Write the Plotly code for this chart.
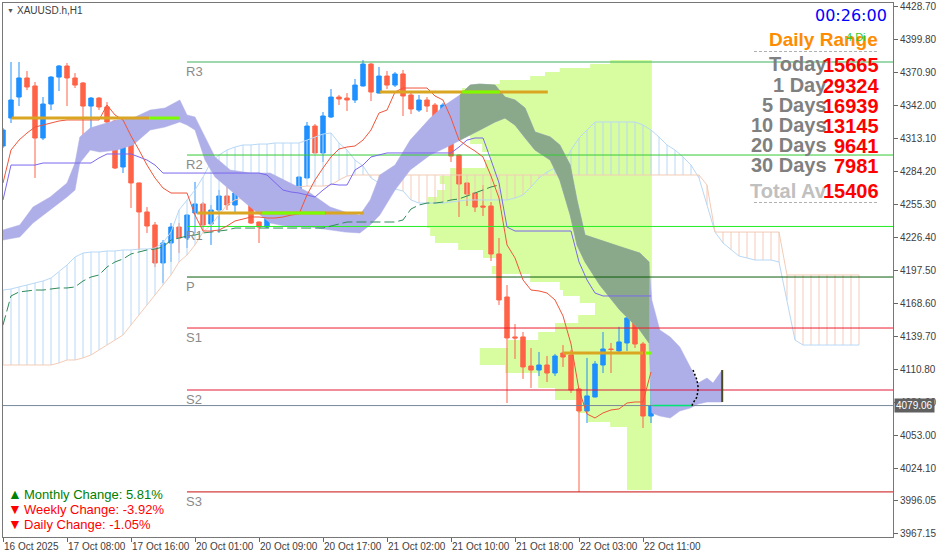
import plotly.graph_objects as go

# ---------------- DATA (XAUUSD.h, H1; bar 0 = 16 Oct 2025 23:00) ----------------
x_tick_bars = [0, 8, 16, 24, 32, 40, 48, 56, 64, 72, 80]
x_tick_labels = ["16 Oct 2025", "17 Oct 08:00", "17 Oct 16:00", "20 Oct 01:00", "20 Oct 09:00",
                 "20 Oct 17:00", "21 Oct 02:00", "21 Oct 10:00", "21 Oct 18:00", "22 Oct 03:00", "22 Oct 11:00"]
y_tick_values = [4428.70, 4399.80, 4370.90, 4342.00, 4313.10, 4284.20, 4255.30, 4226.40, 4197.50,
                 4168.60, 4139.70, 4110.80, 4081.90, 4053.00, 4024.10, 3996.05, 3967.15]

opens = [4306.5, 4331.0, 4349.4, 4366.1, 4359.1, 4313.5, 4343.3, 4366.9, 4376.6, 4366.1,
         4361.7, 4341.5, 4348.5, 4340.7, 4328.4, 4288.1, 4315.3, 4274.1, 4248.7, 4237.3,
         4204.0, 4221.5, 4235.5, 4225.9, 4247.8, 4255.7, 4238.2, 4250.4, 4262.7, 4254.8,
         4264.4, 4266.2, 4239.9, 4235.5, 4254.8, 4258.3, 4260.9, 4253.9, 4278.5, 4324.0,
         4300.4, 4331.9, 4349.4, 4348.5, 4346.8, 4359.1, 4378.3, 4352.9, 4367.8, 4359.9,
         4369.6, 4351.2, 4338.0, 4346.8, 4342.4, 4323.1, 4343.3, 4298.6, 4274.1, 4265.3,
         4253.9, 4253.9, 4211.9, 4174.2, 4139.2, 4139.2, 4113.7, 4110.2, 4114.6, 4107.6,
         4125.1, 4123.4, 4093.6, 4074.3, 4086.6, 4114.6, 4128.6, 4126.9, 4133.9, 4155.8,
         4133.0, 4069.9]
highs = [4322.3, 4380.1, 4380.1, 4372.2, 4362.6, 4349.4, 4367.8, 4377.5, 4379.2, 4370.4,
         4362.6, 4349.4, 4349.4, 4345.0, 4329.3, 4320.5, 4317.9, 4274.5, 4253.0, 4239.9,
         4224.1, 4239.0, 4239.0, 4246.9, 4275.0, 4257.4, 4254.8, 4268.0, 4270.6, 4269.7,
         4268.8, 4266.6, 4240.3, 4257.4, 4263.6, 4263.6, 4261.8, 4279.8, 4327.5, 4325.8,
         4336.3, 4356.4, 4351.2, 4352.9, 4365.2, 4381.8, 4379.2, 4375.7, 4372.2, 4371.3,
         4373.1, 4354.7, 4351.2, 4349.4, 4344.2, 4344.2, 4344.2, 4299.0, 4274.5, 4266.2,
         4272.3, 4257.4, 4225.9, 4184.7, 4150.5, 4143.5, 4129.5, 4126.0, 4122.5, 4124.3,
         4132.1, 4127.8, 4094.0, 4120.8, 4118.1, 4143.5, 4133.9, 4148.0, 4161.1, 4156.2,
         4134.8, 4101.5]
lows = [4304.7, 4326.6, 4341.5, 4355.5, 4278.5, 4311.7, 4338.0, 4354.7, 4341.5, 4357.3,
        4303.0, 4320.5, 4338.0, 4320.5, 4286.3, 4282.8, 4252.2, 4215.4, 4230.3, 4200.5,
        4186.5, 4204.9, 4212.7, 4217.1, 4230.3, 4232.9, 4219.8, 4230.3, 4250.4, 4247.8,
        4259.2, 4238.2, 4221.5, 4234.6, 4252.2, 4253.0, 4246.0, 4253.0, 4278.0, 4300.0,
        4292.5, 4331.0, 4342.4, 4337.1, 4344.2, 4358.6, 4345.9, 4352.5, 4356.4, 4358.2,
        4332.8, 4334.5, 4336.3, 4336.3, 4317.0, 4317.0, 4292.5, 4244.3, 4253.9, 4248.7,
        4245.2, 4205.7, 4167.2, 4081.3, 4119.9, 4102.4, 4094.5, 4105.0, 4099.7, 4105.0,
        4112.9, 4090.1, 4003.4, 4063.8, 4086.2, 4107.6, 4107.6, 4126.0, 4126.9, 4129.5,
        4059.4, 4063.8]
closes = [4320.5, 4346.8, 4366.1, 4358.2, 4313.5, 4343.3, 4366.9, 4376.6, 4366.1, 4359.9,
          4341.5, 4348.5, 4340.7, 4327.5, 4287.2, 4315.3, 4274.1, 4248.7, 4236.4, 4204.0,
          4221.5, 4235.5, 4225.9, 4246.0, 4255.7, 4237.3, 4250.4, 4262.7, 4254.8, 4265.3,
          4267.1, 4239.0, 4235.5, 4255.7, 4259.2, 4261.8, 4253.9, 4279.3, 4324.0, 4300.4,
          4332.8, 4349.4, 4347.7, 4346.8, 4359.9, 4378.3, 4353.8, 4367.8, 4359.9, 4369.6,
          4350.3, 4338.9, 4346.8, 4341.5, 4323.1, 4342.4, 4297.7, 4273.2, 4264.4, 4253.0,
          4253.0, 4211.9, 4171.6, 4138.3, 4138.3, 4112.9, 4110.2, 4114.6, 4107.6, 4122.5,
          4121.6, 4092.7, 4074.3, 4087.5, 4115.5, 4128.6, 4128.2, 4134.8, 4155.8, 4133.0,
          4069.9, 4079.06]

tenkan = [4274.1, 4303.0, 4311.7, 4317.9, 4323.1, 4324.9, 4326.6, 4328.4, 4329.3, 4329.3,
          4329.3, 4329.3, 4329.3, 4342.4, 4333.7, 4329.3, 4315.3, 4303.0, 4289.8, 4278.5,
          4269.7, 4265.3, 4265.3, 4265.3, 4246.0, 4232.0, 4232.0, 4232.9, 4236.4, 4240.8,
          4242.5, 4244.3, 4244.3, 4243.4, 4243.4, 4244.3, 4246.0, 4246.9, 4263.6, 4276.7,
          4287.2, 4296.9, 4303.9, 4305.6, 4306.5, 4311.7, 4320.5, 4335.4, 4338.0, 4353.8,
          4357.3, 4357.3, 4357.3, 4357.3, 4350.3, 4346.8, 4331.0, 4311.7, 4306.5, 4302.1,
          4296.9, 4280.2, 4260.9, 4219.8, 4208.4, 4189.1, 4180.3, 4179.5, 4177.7, 4171.6,
          4157.6, 4133.0, 4092.7, 4071.7, 4068.2, 4072.6, 4075.2, 4076.1, 4081.3, 4082.2,
          4082.2, 4108.5]
kijun = [4259.2, 4289.8, 4289.8, 4289.8, 4289.8, 4291.6, 4291.6, 4291.6, 4291.6, 4291.6,
         4291.6, 4291.6, 4296.0, 4299.5, 4299.5, 4299.5, 4299.5, 4296.9, 4294.2, 4289.8,
         4282.8, 4282.8, 4282.8, 4282.8, 4282.8, 4282.8, 4282.8, 4282.8, 4282.8, 4282.8,
         4282.8, 4282.8, 4282.8, 4281.1, 4274.1, 4267.9, 4266.2, 4265.3, 4263.6, 4261.8,
         4267.9, 4273.2, 4272.3, 4272.3, 4285.5, 4289.8, 4296.9, 4298.6, 4300.4, 4300.4,
         4300.4, 4300.4, 4300.4, 4300.4, 4300.4, 4300.4, 4300.4, 4305.6, 4311.7, 4313.5,
         4313.5, 4294.2, 4274.1, 4235.5, 4232.0, 4232.0, 4232.0, 4232.0, 4232.0, 4232.0,
         4232.0, 4232.0, 4204.9, 4189.1, 4177.7, 4175.1, 4175.1, 4175.1, 4175.1, 4175.1,
         4175.1, 4175.1]
lagging = [4149.7, 4175.1, 4178.6, 4179.5, 4180.3, 4180.3, 4181.2, 4182.1, 4182.1, 4183.0,
           4188.2, 4191.7, 4193.5, 4200.5, 4204.9, 4207.5, 4211.9, 4213.6, 4215.4, 4216.2,
           4218.0, 4224.1, 4225.9, 4227.6, 4228.5, 4230.3, 4231.1, 4232.0, 4232.9, 4234.6,
           4234.6, 4234.6, 4234.6, 4234.6, 4234.6, 4234.6, 4234.6, 4234.6, 4234.6, 4234.6,
           4234.6, 4236.4, 4238.2, 4239.9, 4239.9, 4239.9, 4239.9, 4239.9, 4239.9, 4239.9,
           4241.7, 4251.3, 4254.8, 4256.5, 4256.5, 4257.4, 4259.2, 4260.1, 4262.7, 4265.3,
           4267.9, 4270.6, 4272.3]

span_a = [4180.3, 4181.2, 4183.0, 4184.7, 4186.5, 4188.2, 4190.8, 4196.1, 4202.2, 4209.2,
          4212.7, 4213.6, 4213.6, 4214.5, 4214.5, 4215.4, 4215.4, 4216.2, 4216.2, 4217.1,
          4221.5, 4231.1, 4250.4, 4259.2, 4267.9, 4279.3, 4292.5, 4298.6, 4303.0, 4305.6,
          4307.4, 4307.4, 4308.2, 4308.2, 4309.1, 4309.1, 4309.1, 4309.1, 4311.7, 4314.4,
          4317.0, 4317.9, 4309.1, 4303.0, 4294.2, 4289.0, 4278.5, 4274.1, 4270.6, 4268.8,
          4267.1, 4259.2, 4256.5, 4256.5, 4256.5, 4256.5, 4257.4, 4258.3, 4259.2, 4259.2,
          4259.2, 4259.2, 4259.2, 4259.2, 4260.9, 4263.6, 4270.6, 4278.5, 4283.7, 4287.2,
          4289.8, 4303.0, 4313.5, 4320.5, 4327.5, 4327.5, 4327.5, 4327.5, 4327.5, 4327.5,
          4324.9, 4320.5, 4314.4, 4307.4, 4303.0, 4296.9, 4289.8, 4278.5, 4254.8, 4231.1,
          4221.5, 4215.4, 4210.1, 4208.4, 4206.6, 4206.6, 4206.6, 4204.9, 4171.6, 4136.5,
          4132.1, 4132.1, 4132.1, 4132.1, 4132.1, 4132.1, 4132.1, 4132.1]
span_b = [4114.6, 4114.6, 4114.6, 4114.6, 4114.6, 4114.6, 4114.6, 4116.4, 4119.0, 4119.0,
          4120.8, 4123.4, 4127.8, 4132.1, 4136.5, 4140.9, 4149.7, 4158.4, 4167.2, 4176.0,
          4184.7, 4193.5, 4204.9, 4211.0, 4219.8, 4231.1, 4237.3, 4246.0, 4254.8, 4259.2,
          4260.9, 4263.6, 4263.6, 4263.6, 4265.3, 4270.6, 4270.6, 4270.6, 4271.4, 4271.4,
          4271.4, 4272.3, 4276.7, 4280.2, 4281.1, 4281.1, 4281.1, 4281.1, 4281.1, 4281.1,
          4281.1, 4281.1, 4281.1, 4281.1, 4281.1, 4281.1, 4281.1, 4281.1, 4281.1, 4281.1,
          4281.1, 4281.1, 4281.1, 4281.1, 4281.1, 4281.1, 4281.1, 4281.1, 4281.1, 4281.1,
          4281.1, 4281.1, 4281.1, 4281.1, 4281.1, 4281.1, 4281.1, 4281.1, 4281.1, 4281.1,
          4281.1, 4281.1, 4281.1, 4281.1, 4281.1, 4281.1, 4281.1, 4281.1, 4272.3, 4231.1,
          4231.1, 4231.1, 4231.1, 4231.1, 4231.1, 4231.1, 4231.1, 4231.1, 4193.5, 4193.5,
          4193.5, 4193.5, 4193.5, 4193.5, 4193.5, 4193.5, 4193.5, 4193.5]

# higher-timeframe cloud band (bar position, upper, lower)
band_bar = [0.0, 2.1, 3.75, 5.9, 8.0, 9.0, 9.6, 10.9, 12.1, 14.25, 16.25, 18.4, 20.25, 22.1,
            23.0, 24.0, 25.25, 26.5, 28.4, 30.9, 33.4, 35.9, 38.4, 40.9, 42.75, 44.6, 45.9,
            47.1, 49.0, 50.9, 53.4, 55.25, 57.1, 58.4, 59.6, 61.5, 62.75, 64.0, 65.25, 66.5,
            68.4, 69.6, 70.9, 71.75, 72.75, 74.6, 77.1, 79.6, 80.75, 81.1, 82.1, 83.4, 84.6,
            85.9, 86.9, 88.0, 88.75, 89.9]
band_upper = [4232.9, 4237.3, 4253.0, 4261.8, 4274.1, 4291.6, 4314.4, 4322.3, 4324.9, 4329.3,
              4331.0, 4338.0, 4339.8, 4346.8, 4333.7, 4331.9, 4314.4, 4296.9, 4285.5, 4282.8,
              4282.8, 4274.1, 4265.3, 4253.0, 4248.7, 4246.0, 4259.2, 4281.1, 4289.8, 4311.7,
              4331.0, 4342.4, 4351.2, 4359.9, 4360.8, 4359.9, 4349.4, 4346.8, 4339.8, 4318.8,
              4314.4, 4307.4, 4289.8, 4259.2, 4228.5, 4224.1, 4218.0, 4212.7, 4204.9, 4171.6,
              4145.3, 4139.2, 4130.4, 4112.9, 4098.8, 4103.2, 4098.8, 4110.2]
band_lower = [4224.1, 4226.8, 4239.0, 4250.4, 4261.8, 4267.9, 4291.6, 4303.0, 4301.2, 4303.0,
              4307.4, 4320.5, 4323.1, 4327.5, 4324.9, 4320.5, 4294.2, 4279.3, 4267.9, 4253.0,
              4239.0, 4235.5, 4235.5, 4232.9, 4231.1, 4230.3, 4237.3, 4246.0, 4267.9, 4285.5,
              4298.6, 4304.7, 4311.7, 4316.1, 4320.5, 4327.5, 4331.0, 4324.9, 4313.5, 4303.0,
              4294.2, 4276.7, 4246.0, 4219.8, 4204.9, 4184.7, 4162.8, 4145.3, 4133.9, 4072.6,
              4069.9, 4068.2, 4074.3, 4076.9, 4080.4, 4082.2, 4082.2, 4082.2]

# dotted marker curve right of the last bar (bar position, price)
dots_bar = [86.25, 86.75, 86.9, 86.75, 86.25, 86.1]
dots_price = [4110.2, 4101.5, 4094.5, 4086.6, 4081.3, 4078.7]

# volume profile rows (upper price, lower price, first bar reached)
profile_hi = [4381.8, 4378.3, 4374.8, 4371.3, 4367.8, 4364.3, 4360.8, 4357.3, 4350.3, 4343.3,
              4336.3, 4329.3, 4322.3, 4315.3, 4308.2, 4301.2, 4294.2, 4287.2, 4280.2, 4273.2,
              4267.9, 4261.8, 4255.7, 4248.7, 4241.7, 4234.6, 4227.6, 4221.5, 4215.4, 4208.4,
              4201.4, 4194.4, 4187.3, 4180.3, 4175.1, 4168.9, 4158.4, 4151.4, 4143.5, 4136.5,
              4129.5, 4121.6, 4114.6, 4107.6, 4094.5, 4083.9, 4072.6, 4064.7, 4060.3]
profile_lo = [4378.3, 4374.8, 4371.3, 4367.8, 4364.3, 4360.8, 4357.3, 4350.3, 4343.3, 4336.3,
              4329.3, 4322.3, 4315.3, 4308.2, 4301.2, 4294.2, 4287.2, 4280.2, 4273.2, 4267.9,
              4261.8, 4255.7, 4248.7, 4241.7, 4234.6, 4227.6, 4221.5, 4215.4, 4208.4, 4201.4,
              4194.4, 4187.3, 4180.3, 4175.1, 4168.9, 4158.4, 4151.4, 4143.5, 4136.5, 4129.5,
              4121.6, 4114.6, 4107.6, 4094.5, 4083.9, 4072.6, 4064.7, 4060.3, 4005.1]
profile_start = [75.9, 73.4, 69.6, 67.75, 65.9, 62.1, 60.0, 57.4, 57.1, 57.4,
                 58.0, 59.0, 56.9, 58.4, 59.9, 60.9, 60.25, 55.9, 54.6, 55.25,
                 54.25, 53.1, 53.0, 53.0, 53.0, 53.4, 54.0, 56.9, 60.0, 62.1,
                 61.1, 65.9, 69.6, 70.0, 72.1, 74.0, 71.9, 69.0, 66.9, 63.1,
                 59.6, 59.6, 62.75, 66.9, 69.0, 71.9, 73.1, 75.9, 78.0]
profile_end = 81.1

pivot_names = ["R3", "R2", "R1", "P", "S1", "S2", "S3"]
pivot_prices = [4380.1, 4298.6, 4236.0, 4191.7, 4147.0, 4092.7, 4003.4]
pivot_start = 23

# daily open segments (price, start bar, end bar, highlighted start, highlighted end)
open_price = [4331.0, 4247.8, 4353.8, 4125.1]
open_from = [1.1, 24.25, 47.1, 70.0]
open_to = [18.25, 45.1, 68.1, 80.0]
open_hl_from = [18.25, 32.4, 57.4, 80.25]
open_hl_to = [22.1, 40.25, 62.1, 81.1]

last_price = 4079.06
range_labels = ["Today", "1 Day", "5 Days", "10 Days", "20 Days", "30 Days"]
range_values = ["15665", "29324", "16939", "13145", "9641", "7981"]
range_total = "15406"

# ---------------- FIGURE ----------------
L, R, T, B = 3, 893, 3, 537
W, H = 939, 558
def fx(px):
    return (px - L) / (R - L)
def fy(py):
    return (B - py) / (B - T)

X_END = 111.25
fig = go.Figure()

# volume profile
fig.add_trace(go.Bar(
    orientation="h",
    y=[(h + l) / 2 for h, l in zip(profile_hi, profile_lo)],
    x=[profile_end - s for s in profile_start],
    base=profile_start,
    width=[h - l for h, l in zip(profile_hi, profile_lo)],
    marker=dict(color="#d8fca0", line=dict(width=0)),
    hoverinfo="skip"))

# Ichimoku cloud hatching
bx, by, px_, py_ = [], [], [], []
for k, (a, b) in enumerate(zip(span_a, span_b)):
    if a >= b:
        bx += [k, k, None]; by += [a, b, None]
    else:
        px_ += [k, k, None]; py_ += [a, b, None]
fig.add_trace(go.Scatter(x=bx, y=by, mode="lines", line=dict(color="#b8d8f6", width=1), hoverinfo="skip"))
fig.add_trace(go.Scatter(x=px_, y=py_, mode="lines", line=dict(color="#f3cbb6", width=1), hoverinfo="skip"))
fig.add_trace(go.Scatter(x=list(range(len(span_a))), y=span_a, mode="lines",
                         line=dict(color="#b8d8f6", width=1), hoverinfo="skip"))
fig.add_trace(go.Scatter(x=list(range(len(span_b))), y=span_b, mode="lines",
                         line=dict(color="#f3cbb6", width=1), hoverinfo="skip"))

# purple band
fig.add_trace(go.Scatter(x=band_bar + band_bar[::-1], y=band_upper + band_lower[::-1],
                         mode="lines", fill="toself", fillcolor="#aeaee8",
                         line=dict(color="#aeaee8", width=0.5), hoverinfo="skip"))
# overlap of band and profile
idx = [i for i, b in enumerate(band_bar) if 57.0 <= b <= 80.8]
gb = [band_bar[i] for i in idx]
gu = [band_upper[i] for i in idx]
gl = [band_lower[i] for i in idx]
fig.add_trace(go.Scatter(x=gb + gb[::-1], y=gu + gl[::-1], mode="lines", fill="toself",
                         fillcolor="#8aa98a", line=dict(color="#8aa98a", width=0.5), hoverinfo="skip"))

# pivot lines
pivot_colors = ["#3cb35a", "#33cc33", "#22ee22", "#0b5e0b", "#ee1c2c", "#e01838", "#c80f0f"]
for name, p, c in zip(pivot_names, pivot_prices, pivot_colors):
    fig.add_trace(go.Scatter(x=[pivot_start, X_END], y=[p, p], mode="lines",
                             line=dict(color=c, width=1), hoverinfo="skip"))

# last price line
fig.add_trace(go.Scatter(x=[0, X_END], y=[last_price, last_price], mode="lines",
                         line=dict(color="#778899", width=1), hoverinfo="skip"))

# candles
fig.add_trace(go.Candlestick(
    x=list(range(len(opens))), open=opens, high=highs, low=lows, close=closes,
    increasing=dict(line=dict(color="#1e90ff", width=1), fillcolor="#1e90ff"),
    decreasing=dict(line=dict(color="#ff6347", width=1), fillcolor="#ff6347"),
    whiskerwidth=0, hoverinfo="skip"))

# ichimoku lines
fig.add_trace(go.Scatter(x=list(range(len(lagging))), y=lagging, mode="lines",
                         line=dict(color="#2e8b57", width=1, dash="10px,4px"), hoverinfo="skip"))
fig.add_trace(go.Scatter(x=list(range(len(kijun))), y=kijun, mode="lines",
                         line=dict(color="#7b68ee", width=1), hoverinfo="skip"))
fig.add_trace(go.Scatter(x=list(range(len(tenkan))), y=tenkan, mode="lines",
                         line=dict(color="#f0553a", width=1), hoverinfo="skip"))

# daily open segments
for p, a, b, ha, hb in zip(open_price, open_from, open_to, open_hl_from, open_hl_to):
    fig.add_trace(go.Scatter(x=[a, b], y=[p, p], mode="lines",
                             line=dict(color="#daa520", width=3), hoverinfo="skip"))
    fig.add_trace(go.Scatter(x=[ha, hb], y=[p, p], mode="lines",
                             line=dict(color="#7cfc00", width=3), hoverinfo="skip"))

# small marks right of last bar
fig.add_trace(go.Scatter(x=[81.2, 86.1], y=[last_price, last_price], mode="lines",
                         line=dict(color="#00e676", width=1.5), hoverinfo="skip"))
fig.add_trace(go.Scatter(x=[89.9, 89.9], y=[4110.2, 4082.2], mode="lines",
                         line=dict(color="#4a4a20", width=2), hoverinfo="skip"))
fig.add_trace(go.Scatter(x=dots_bar, y=dots_price, mode="lines",
                         line=dict(color="#000000", width=1.5, dash="2px,2px"), hoverinfo="skip"))

annotations = []
def txt(x, y, s, size, color, anchor="left", family="Liberation Sans", bold=False):
    if bold:
        s = "<b>" + s + "</b>"
    annotations.append(dict(x=fx(x), y=fy(y), xref="paper", yref="paper", text=s, showarrow=False,
                            xanchor=anchor, yanchor="middle", borderpad=0,
                            font=dict(family=family, size=size, color=color)))

# pivot labels
for name, p in zip(pivot_names, pivot_prices):
    annotations.append(dict(x=pivot_start, y=p, xref="x", yref="y", text=name, showarrow=False,
                            xanchor="left", yanchor="top", yshift=-1, xshift=-2, borderpad=0,
                            font=dict(family="Liberation Sans", size=13, color="#8a8a8a")))

txt(6, 10, "▼", 7, "#555555")
txt(16, 10, "XAUUSD.h,H1", 10, "#404040")
txt(888, 15, "00:26:00", 16, "#0000ff", anchor="right", family="DejaVu Sans")
txt(879, 40, "Daily Range", 19, "#ff8c00", anchor="right", bold=True)
txt(845, 37, "4 Di", 11, "#32cd32")
row_y = [64, 85, 105, 125, 145, 165]
for lab, val, yy in zip(range_labels, range_values, row_y):
    txt(828, yy, lab, 20, "#808080", anchor="right", bold=True)
    txt(880, yy + 1, val, 20, "#ff0000", anchor="right", bold=True)
txt(828, 191, "Total Av", 20, "#c0c0c0", anchor="right", bold=True)
txt(880, 191, range_total, 20, "#ff0000", anchor="right", bold=True)

txt(7, 494, "▲", 14, "#008000")
txt(23, 494, "Monthly Change: 5.81%", 13, "#008000")
txt(7, 509, "▼", 14, "#ff0000")
txt(23, 509, "Weekly Change: -3.92%", 13, "#ff0000")
txt(7, 524, "▼", 14, "#ff0000")
txt(23, 524, "Daily Change: -1.05%", 13, "#ff0000")

annotations.append(dict(x=1, y=last_price, xref="paper", yref="y", text="4079.06", showarrow=False,
                        xanchor="left", yanchor="middle", xshift=1, bgcolor="#606060", borderpad=1,
                        font=dict(family="Liberation Sans", size=10, color="#ffffff")))

shapes = []
for yy in (51.5, 202.5):
    shapes.append(dict(type="line", xref="paper", yref="paper", x0=fx(754), x1=fx(878),
                       y0=fy(yy), y1=fy(yy), line=dict(color="#b0b0b0", width=1, dash="3px,2px")))

fig.update_layout(
    width=W, height=H, margin=dict(l=L, r=W - R, t=T, b=H - B, autoexpand=False),
    paper_bgcolor="white", plot_bgcolor="white", showlegend=False,
    boxgap=0.35, boxgroupgap=0.15, annotations=annotations, shapes=shapes,
    xaxis=dict(range=[0, X_END], tickvals=x_tick_bars, ticktext=x_tick_labels, tickangle=0,
               ticks="outside", ticklen=4, tickcolor="#666666", ticklabelposition="outside right",
               tickfont=dict(family="Liberation Sans", size=10, color="#404040"), automargin=False,
               showline=True, linecolor="#777777", mirror=True, showgrid=False, zeroline=False,
               rangeslider=dict(visible=False), fixedrange=True),
    yaxis=dict(range=[3963.9, 4431.8], side="right", tickvals=y_tick_values, automargin=False,
               ticktext=["%.2f" % v for v in y_tick_values], ticks="outside", ticklen=4,
               tickcolor="#666666", tickfont=dict(family="Liberation Sans", size=10, color="#404040"),
               showline=True, linecolor="#777777", mirror=True, showgrid=False, zeroline=False,
               fixedrange=True),
)

fig.write_html("out.html", config={"displayModeBar": False},
               post_script="document.body.style.margin='0';document.body.style.overflow='hidden';")
